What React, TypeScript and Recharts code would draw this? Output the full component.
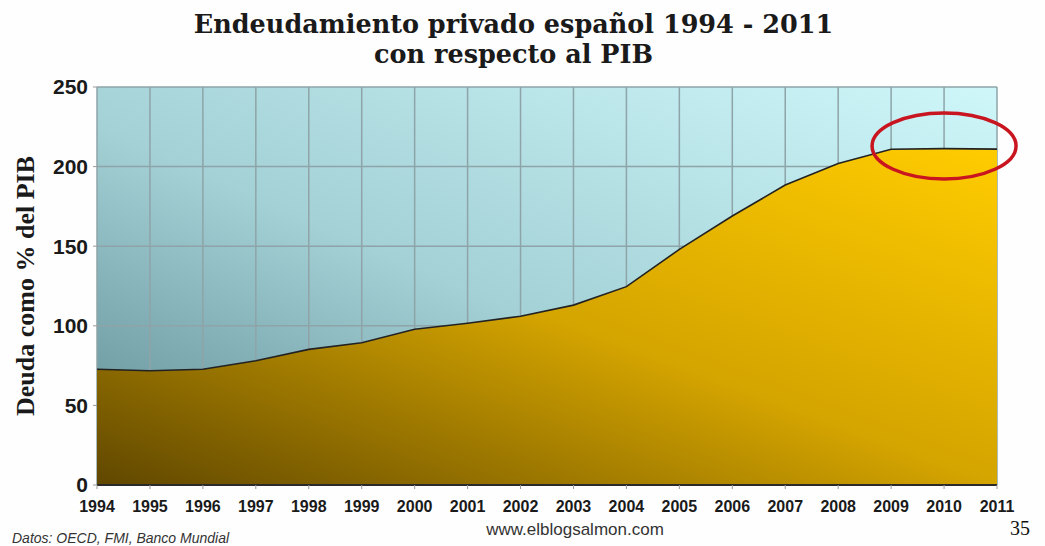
import React from 'react'
import {
  Area,
  AreaChart,
  CartesianGrid,
  ReferenceDot,
  XAxis,
  YAxis,
} from 'recharts'

const years = [
  '1994', '1995', '1996', '1997', '1998', '1999', '2000', '2001', '2002',
  '2003', '2004', '2005', '2006', '2007', '2008', '2009', '2010', '2011',
]
const debtPctGdp = [
  72.7, 71.8, 72.7, 78, 85.2, 89.4, 97.8, 101.6, 106, 113, 124.6, 148, 169,
  188.4, 202, 210.9, 211.3, 211,
]
const yTicks = [0, 50, 100, 150, 200, 250]

const data = years.map((year, i) => ({ year, value: debtPctGdp[i] }))

// highlighted zone (the red ellipse), centred on this point
const highlightYear = '2010'
const highlightValue = 213

const Ellipse = (props: { cx?: number; cy?: number }) => {
  const { cx = 0, cy = 0 } = props
  return (
    <ellipse
      cx={cx}
      cy={cy}
      rx={72}
      ry={33}
      fill="none"
      stroke="#c8151f"
      strokeWidth={3.5}
    />
  )
}

const YLabel = (props: { viewBox?: { x: number; y: number; width: number; height: number } }) => {
  const vb = props.viewBox || { x: 0, y: 0, width: 0, height: 0 }
  const cx = 25
  const cy = vb.y + vb.height / 2
  return (
    <text
      x={cx}
      y={cy}
      transform={`rotate(-90 ${cx} ${cy})`}
      textAnchor="middle"
      dominantBaseline="central"
      fontFamily="'Liberation Serif', serif"
      fontWeight="bold"
      fontSize={26}
      fill="#1a1a1a"
    >
      Deuda como % del PIB
    </text>
  )
}

export default function App() {
  return (
    <div
      style={{
        position: 'absolute',
        left: 0,
        top: 0,
        width: 1045,
        height: 546,
        background: '#fefefe',
        overflow: 'hidden',
      }}
    >
      <div
        style={{
          position: 'absolute',
          left: 0,
          width: 1027,
          top: 9,
          textAlign: 'center',
          fontFamily: "'DejaVu Serif', serif",
          fontWeight: 'bold',
          fontSize: 25.5,
          lineHeight: '30px',
          color: '#1a1a1a',
        }}
      >
        <div>Endeudamiento privado español 1994 - 2011</div>
        <div>con respecto al PIB</div>
      </div>
      <AreaChart
        width={1045}
        height={546}
        data={data}
        margin={{ top: 87, right: 48, bottom: 31, left: 37 }}
      >
        <defs>
          <linearGradient id="bgGrad" x1="0" y1="1" x2="1" y2="0">
            <stop offset="0%" stopColor="#5d8990" />
            <stop offset="45%" stopColor="#a3d1d6" />
            <stop offset="100%" stopColor="#cff7fa" />
          </linearGradient>
          <linearGradient id="areaGrad" x1="0" y1="1" x2="1" y2="0">
            <stop offset="0%" stopColor="#604700" />
            <stop offset="50%" stopColor="#d4a400" />
            <stop offset="100%" stopColor="#ffcc00" />
          </linearGradient>
        </defs>
        <CartesianGrid
          fill="url(#bgGrad)"
          fillOpacity={1}
          stroke="#8ea4a8"
          strokeWidth={1.5}
        />
        <XAxis
          dataKey="year"
          tickLine={{ stroke: '#9a9a9a' }}
          tickSize={4}
          tickMargin={12}
          axisLine={{ stroke: '#2a2a2a', strokeWidth: 2 }}
          tick={{
            fill: '#1a1a1a',
            fontSize: 16,
            fontWeight: 'bold',
            fontFamily: "'Liberation Sans', Arial, sans-serif",
          }}
          interval={0}
          height={30}
        />
        <YAxis
          domain={[0, 250]}
          ticks={yTicks}
          width={60}
          tickLine={{ stroke: '#9a9a9a' }}
          tickSize={4}
          tickMargin={5}
          axisLine={false}
          tick={{
            fill: '#1a1a1a',
            fontSize: 21,
            fontWeight: 'bold',
            fontFamily: "'Liberation Sans', Arial, sans-serif",
          }}
          label={<YLabel />}
        />
        <Area
          type="linear"
          dataKey="value"
          stroke="#222"
          strokeWidth={1.6}
          fill="url(#areaGrad)"
          fillOpacity={1}
          isAnimationActive={false}
        />
        <ReferenceDot
          x={highlightYear}
          y={highlightValue}
          shape={<Ellipse />}
          ifOverflow="visible"
        />
      </AreaChart>
      <div
        style={{
          position: 'absolute',
          left: 12,
          top: 530,
          fontFamily: "'Liberation Sans', Arial, sans-serif",
          fontStyle: 'italic',
          fontSize: 14,
          color: '#333',
        }}
      >
        Datos: OECD, FMI, Banco Mundial
      </div>
      <div
        style={{
          position: 'absolute',
          left: 475,
          width: 200,
          top: 520,
          textAlign: 'center',
          fontFamily: "'Liberation Sans', Arial, sans-serif",
          fontSize: 17,
          color: '#333',
        }}
      >
        www.elblogsalmon.com
      </div>
      <div
        style={{
          position: 'absolute',
          left: 1010,
          top: 517,
          fontFamily: "'Liberation Serif', serif",
          fontSize: 20,
          color: '#111',
        }}
      >
        35
      </div>
    </div>
  )
}
